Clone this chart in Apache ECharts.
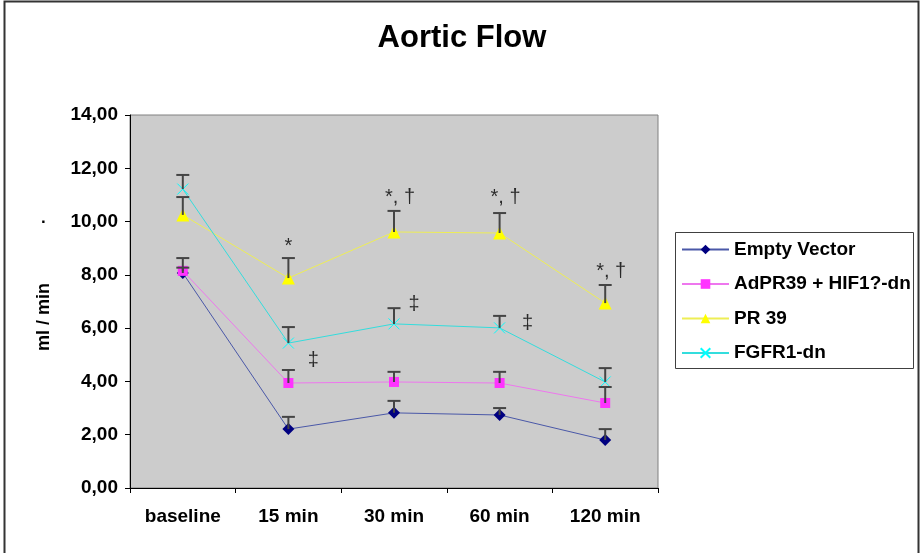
<!DOCTYPE html>
<html><head><meta charset="utf-8">
<script src="https://cdn.jsdelivr.net/npm/echarts@6/dist/echarts.min.js"></script>
<style>html,body{margin:0;padding:0;background:#fff}#c{width:920px;height:553px}</style>
</head><body><div id="c"></div>
<script>
var categories = ['baseline', '15 min', '30 min', '60 min', '120 min'];
var seriesNames = ['Empty Vector', 'AdPR39 + HIF1?-dn', 'PR 39', 'FGFR1-dn'];
var emptyVector = [8.07, 2.21, 2.82, 2.74, 1.80];
var adpr39Hif = [8.15, 3.94, 3.98, 3.94, 3.19];
var pr39 = [10.25, 7.88, 9.61, 9.57, 6.94];
var fgfr1 = [11.22, 5.44, 6.16, 6.01, 3.98];
var errEmpty = [0.20, 0.46, 0.45, 0.26, 0.41];
var errAdpr = [0.48, 0.49, 0.38, 0.42, 0.60];
var errPr39 = [0.67, 0.75, 0.79, 0.75, 0.68];
var errFgfr = [0.53, 0.60, 0.59, 0.45, 0.52];
var yTicks = [0, 2, 4, 6, 8, 10, 12, 14];
var annotCat = [1, 2, 3, 4, 1, 2, 3];
var annotY = [9.05, 10.89, 10.89, 8.12, 4.80, 6.87, 6.16];
var annotText = ['*', '*, \u2020', '*, \u2020', '*, \u2020', '\u2021', '\u2021', '\u2021'];
var annotDx = [0, 6, 6, 6, 25, 20, 28];

var FONT = '"Liberation Sans", Arial, sans-serif';
var chart = echarts.init(document.getElementById('c'), null, {renderer: 'canvas'});

function errSeries(vals, errs) {
  return {
    type: 'custom', z: 5, silent: true,
    data: vals.map(function (v, i) { return [i, v, v + errs[i]]; }),
    renderItem: function (params, api) {
      var p0 = api.coord([api.value(0), api.value(1)]);
      var p1 = api.coord([api.value(0), api.value(2)]);
      var st = {stroke: '#444444', lineWidth: 2};
      return {type: 'group', children: [
        {type: 'line', shape: {x1: p0[0], y1: p0[1], x2: p1[0], y2: p1[1]}, style: st},
        {type: 'line', shape: {x1: p1[0] - 6.5, y1: p1[1], x2: p1[0] + 6.5, y2: p1[1]}, style: st}
      ]};
    }
  };
}

var option = {
  animation: false,
  backgroundColor: '#ffffff',
  textStyle: {fontFamily: FONT},
  title: {text: 'Aortic Flow', left: 457, top: 18, textAlign: 'center',
    textStyle: {fontFamily: FONT, fontWeight: 'bold', fontSize: 31, color: '#000'}},
  grid: {left: 130, right: 262, top: 115, bottom: 65, show: true,
    backgroundColor: '#cccccc', borderColor: '#808080', borderWidth: 1},
  legend: {
    orient: 'vertical', left: 681, top: 240, padding: 0, itemWidth: 47, itemHeight: 12, itemGap: 15.5,
    data: seriesNames,
    textStyle: {fontFamily: FONT, fontWeight: 'bold', fontSize: 19, color: '#000'}
  },
  xAxis: {
    type: 'category', data: categories, boundaryGap: true,
    axisLine: {lineStyle: {color: '#000', width: 1}},
    axisTick: {show: true, length: 5, lineStyle: {color: '#000'}},
    axisLabel: {fontFamily: FONT, fontWeight: 'bold', fontSize: 19, color: '#000', margin: 19}
  },
  yAxis: {
    type: 'value', min: 0, max: 14, interval: 2,
    axisLine: {show: true, lineStyle: {color: '#000', width: 1}},
    axisTick: {show: true, length: 5, lineStyle: {color: '#000'}},
    splitLine: {show: false},
    axisLabel: {fontFamily: FONT, fontWeight: 'bold', fontSize: 19, color: '#000', margin: 12,
      formatter: function (v) { return yTicks.indexOf(v) >= 0 ? v.toFixed(2).replace('.', ',') : ''; }}
  },
  graphic: [
    {type: 'rect', shape: {x: 4.5, y: 1.5, width: 914, height: 560}, style: {fill: 'none', stroke: '#333', lineWidth: 2}, silent: true},
    {type: 'rect', shape: {x: 675.5, y: 232.5, width: 238, height: 136}, style: {fill: 'none', stroke: '#404040', lineWidth: 1}, silent: true},
    {type: 'text', x: 44, y: 317, rotation: Math.PI / 2,
      style: {text: 'ml / min', fontFamily: FONT, fontWeight: 'bold', fontSize: 18, fill: '#000', align: 'center', verticalAlign: 'middle'}},
    {type: 'text', left: 41, top: 210, style: {text: '.', fontFamily: FONT, fontWeight: 'bold', fontSize: 17, fill: '#000'}}
  ],
  series: [
    {name: seriesNames[0], type: 'line', data: emptyVector, symbol: 'diamond', symbolSize: 12,
      lineStyle: {color: '#4a58a8', width: 1}, itemStyle: {color: '#000080'}, z: 3},
    {name: seriesNames[1], type: 'line', data: adpr39Hif, symbol: 'rect', symbolSize: 10,
      lineStyle: {color: '#ee77ee', width: 1}, itemStyle: {color: '#ff33ff'}, z: 3},
    {name: seriesNames[2], type: 'line', data: pr39, symbol: 'triangle', symbolSize: 13,
      lineStyle: {color: '#eeee55', width: 1}, itemStyle: {color: '#ffff00'}, z: 3},
    {name: seriesNames[3], type: 'line', data: fgfr1, symbol: 'path://M0,0L10,10M10,0L0,10', symbolSize: 11,
      lineStyle: {color: '#33dddd', width: 1}, itemStyle: {color: 'none', borderColor: '#00ffff', borderWidth: 1}, z: 3},
    errSeries(emptyVector, errEmpty),
    errSeries(adpr39Hif, errAdpr),
    errSeries(pr39, errPr39),
    errSeries(fgfr1, errFgfr),
    {type: 'scatter', symbolSize: 0, silent: true, z: 6,
      data: annotCat.map(function (c, i) { return {value: [c, annotY[i]],
        label: {show: true, position: 'inside', offset: [annotDx[i], 0], formatter: annotText[i],
          fontFamily: FONT, fontSize: 20, color: '#000'}}; })}
  ]
};
chart.setOption(option);
</script></body></html>
